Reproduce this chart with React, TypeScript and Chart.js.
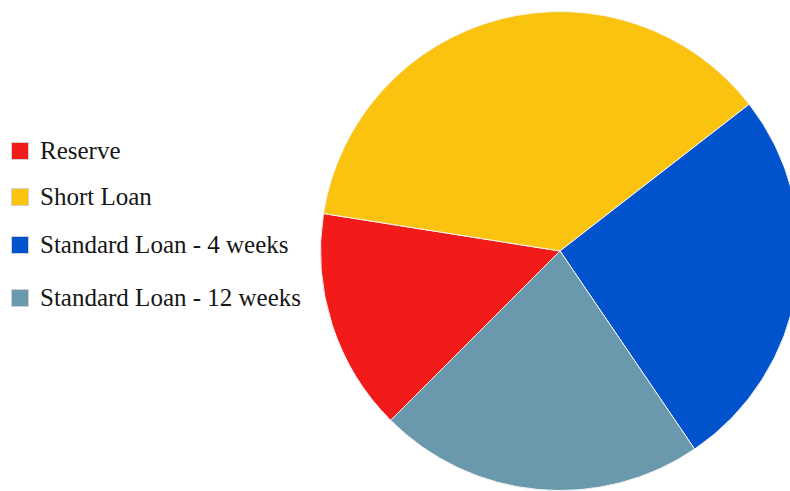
import React, { useEffect, useRef } from "react";
import { Chart, registerables } from "chart.js";

Chart.register(...registerables);

const labels = ["Reserve", "Short Loan", "Standard Loan - 4 weeks", "Standard Loan - 12 weeks"];
const values = [15, 37, 26, 22];
const colors = ["#F31A1A", "#F9C310", "#0053CD", "#6A98AC"];

const legendTops = [142, 188, 236, 289];

export default function App() {
  const ref = useRef<HTMLCanvasElement | null>(null);

  useEffect(() => {
    if (!ref.current) return;
    const chart = new Chart(ref.current, {
      type: "pie",
      data: {
        labels,
        datasets: [
          {
            data: values,
            backgroundColor: colors,
            borderColor: "#f4f4f4",
            borderWidth: 1,
          },
        ],
      },
      options: {
        responsive: false,
        animation: false,
        rotation: 225,
        layout: { padding: 0 },
        plugins: {
          legend: { display: false },
          tooltip: { enabled: false },
        },
      },
    });
    return () => chart.destroy();
  }, []);

  return (
    <div
      style={{
        position: "fixed",
        left: 0,
        top: 0,
        width: 790,
        height: 491,
        overflow: "hidden",
        background: "#ffffff",
      }}
    >
      {labels.map((l, i) => (
        <div
          key={l}
          style={{
            position: "absolute",
            left: 11,
            top: legendTops[i],
            height: 18,
            display: "flex",
            alignItems: "center",
            fontFamily: "'Liberation Serif', 'Times New Roman', serif",
            fontSize: 25,
            color: "#161616",
            whiteSpace: "nowrap",
          }}
        >
          <span
            style={{
              display: "inline-block",
              width: 16,
              height: 16,
              background: colors[i],
              border: "1px solid #d0d0d0",
              marginRight: 11,
              flex: "none",
            }}
          />
          <span>{l}</span>
        </div>
      ))}
      <div style={{ position: "absolute", left: 320, top: 11, width: 480, height: 480 }}>
        <canvas ref={ref} width={480} height={480} />
      </div>
    </div>
  );
}
